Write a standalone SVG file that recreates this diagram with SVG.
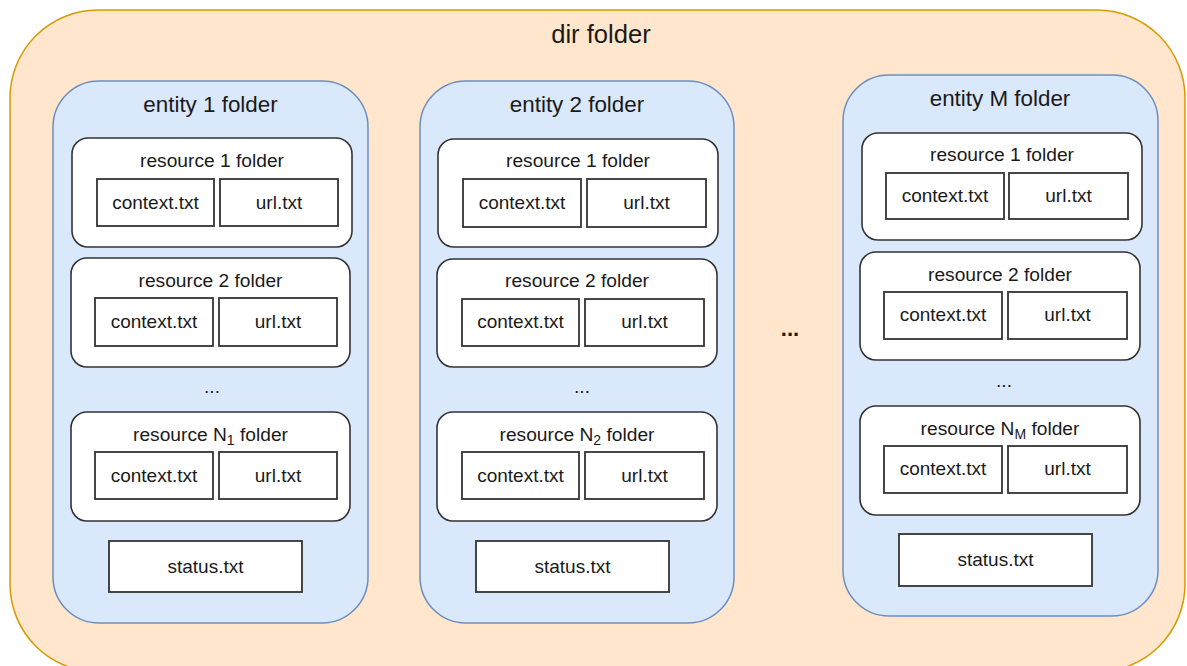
<svg xmlns="http://www.w3.org/2000/svg" width="1187" height="666" viewBox="0 0 1187 666">
  <style>
    text { font-family: "Liberation Sans", Arial, Helvetica, sans-serif; fill: #1a1a1a; text-anchor: middle; }
    .dir { fill: #ffe6cc; stroke: #d79b00; stroke-width: 1.5; }
    .entity { fill: #dae8fc; stroke: #6c8ebf; stroke-width: 1.5; }
    .res { fill: #ffffff; stroke: #333333; stroke-width: 1.6; }
    .file { fill: #ffffff; stroke: #333333; stroke-width: 1.8; }
    .t-dir { font-size: 25.6px; }
    .t-ent { font-size: 22.4px; }
    .t-res { font-size: 19.2px; }
    .t-file { font-size: 19px; }
    .t-gap { font-size: 22px; font-weight: bold; }
    .sub { font-size: 14px; }
  </style>

  <!-- top-level directory -->
  <g id="dir-folder">
    <rect class="dir" x="10" y="10" width="1175" height="662" rx="88"/>
    <text class="t-dir" x="601" y="43">dir folder</text>
  </g>

  <!-- entity 1 -->
  <g id="entity-1">
    <rect class="entity" x="53" y="81" width="315" height="542" rx="46"/>
    <text class="t-ent" x="210.5" y="112">entity 1 folder</text>
  </g>
  <g id="e1-resource-1">
    <rect class="res" x="72" y="138" width="280" height="109" rx="16"/>
    <text class="t-res" x="212" y="167">resource 1 folder</text>
    <rect class="file" x="97" y="179" width="117" height="47"/>
    <text class="t-file" x="155.5" y="209">context.txt</text>
    <rect class="file" x="220" y="179" width="118" height="47"/>
    <text class="t-file" x="279" y="209">url.txt</text>
  </g>
  <g id="e1-resource-2">
    <rect class="res" x="71" y="258" width="279" height="109" rx="16"/>
    <text class="t-res" x="210.5" y="287">resource 2 folder</text>
    <rect class="file" x="95" y="298" width="118" height="48"/>
    <text class="t-file" x="154" y="328">context.txt</text>
    <rect class="file" x="219" y="298" width="118" height="48"/>
    <text class="t-file" x="278" y="328">url.txt</text>
  </g>
  <text class="t-file" x="212" y="393">...</text>
  <g id="e1-resource-n">
    <rect class="res" x="71" y="412" width="279" height="109" rx="16"/>
    <text class="t-res" x="210.5" y="441">resource N<tspan class="sub" dy="4">1</tspan><tspan dy="-4"> folder</tspan></text>
    <rect class="file" x="95" y="452" width="118" height="47"/>
    <text class="t-file" x="154" y="482">context.txt</text>
    <rect class="file" x="219" y="452" width="118" height="47"/>
    <text class="t-file" x="278" y="482">url.txt</text>
  </g>
  <g id="e1-status">
    <rect class="file" x="109" y="541" width="193" height="51"/>
    <text class="t-file" x="205.5" y="573">status.txt</text>
  </g>

  <!-- entity 2 -->
  <g id="entity-2">
    <rect class="entity" x="420" y="81" width="314" height="542" rx="46"/>
    <text class="t-ent" x="577" y="112">entity 2 folder</text>
  </g>
  <g id="e2-resource-1">
    <rect class="res" x="438" y="139" width="280" height="108" rx="16"/>
    <text class="t-res" x="578" y="167">resource 1 folder</text>
    <rect class="file" x="463" y="179" width="118" height="48"/>
    <text class="t-file" x="522" y="209">context.txt</text>
    <rect class="file" x="587" y="179" width="119" height="48"/>
    <text class="t-file" x="646.5" y="209">url.txt</text>
  </g>
  <g id="e2-resource-2">
    <rect class="res" x="437" y="259" width="280" height="108" rx="16"/>
    <text class="t-res" x="577" y="287">resource 2 folder</text>
    <rect class="file" x="462" y="299" width="117" height="47"/>
    <text class="t-file" x="520.5" y="328">context.txt</text>
    <rect class="file" x="585" y="299" width="119" height="47"/>
    <text class="t-file" x="644.5" y="328">url.txt</text>
  </g>
  <text class="t-file" x="582" y="393">...</text>
  <g id="e2-resource-n">
    <rect class="res" x="437" y="412" width="280" height="109" rx="16"/>
    <text class="t-res" x="577" y="441">resource N<tspan class="sub" dy="4">2</tspan><tspan dy="-4"> folder</tspan></text>
    <rect class="file" x="462" y="452" width="117" height="47"/>
    <text class="t-file" x="520.5" y="482">context.txt</text>
    <rect class="file" x="585" y="452" width="119" height="47"/>
    <text class="t-file" x="644.5" y="482">url.txt</text>
  </g>
  <g id="e2-status">
    <rect class="file" x="476" y="541" width="193" height="51"/>
    <text class="t-file" x="572.5" y="573">status.txt</text>
  </g>

  <!-- gap between entity 2 and entity M -->
  <text class="t-gap" x="790" y="336">...</text>

  <!-- entity M -->
  <g id="entity-m">
    <rect class="entity" x="843" y="75" width="315" height="541" rx="46"/>
    <text class="t-ent" x="1000" y="106">entity M folder</text>
  </g>
  <g id="em-resource-1">
    <rect class="res" x="862" y="133" width="280" height="107" rx="16"/>
    <text class="t-res" x="1002" y="161">resource 1 folder</text>
    <rect class="file" x="886" y="173" width="118" height="46"/>
    <text class="t-file" x="945" y="202">context.txt</text>
    <rect class="file" x="1009" y="173" width="119" height="46"/>
    <text class="t-file" x="1068.5" y="202">url.txt</text>
  </g>
  <g id="em-resource-2">
    <rect class="res" x="860" y="252" width="280" height="108" rx="16"/>
    <text class="t-res" x="1000" y="281">resource 2 folder</text>
    <rect class="file" x="884" y="292" width="118" height="47"/>
    <text class="t-file" x="943" y="321">context.txt</text>
    <rect class="file" x="1008" y="292" width="119" height="47"/>
    <text class="t-file" x="1067.5" y="321">url.txt</text>
  </g>
  <text class="t-file" x="1004" y="387">...</text>
  <g id="em-resource-n">
    <rect class="res" x="860" y="406" width="280" height="109" rx="16"/>
    <text class="t-res" x="1000" y="435">resource N<tspan class="sub" dy="4">M</tspan><tspan dy="-4"> folder</tspan></text>
    <rect class="file" x="884" y="446" width="118" height="47"/>
    <text class="t-file" x="943" y="475">context.txt</text>
    <rect class="file" x="1008" y="446" width="119" height="47"/>
    <text class="t-file" x="1067.5" y="475">url.txt</text>
  </g>
  <g id="em-status">
    <rect class="file" x="899" y="534" width="193" height="52"/>
    <text class="t-file" x="995.5" y="566">status.txt</text>
  </g>
</svg>
